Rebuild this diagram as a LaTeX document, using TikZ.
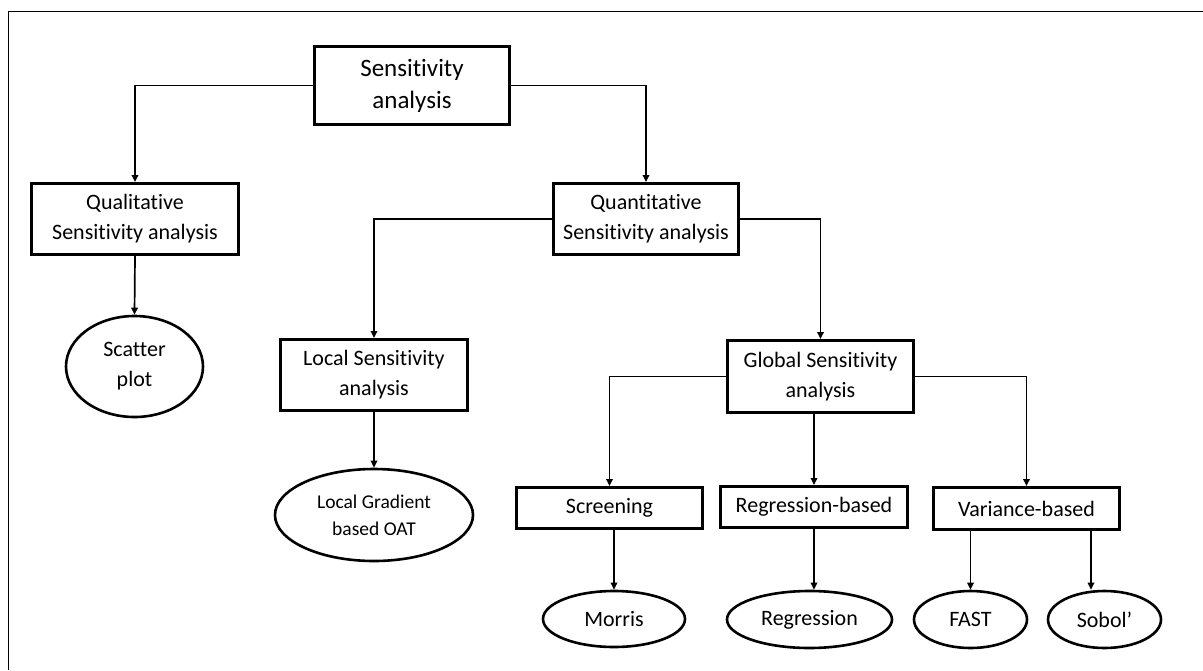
\documentclass[tikz,border=0pt]{standalone}
\usepackage{fontspec}
\setmainfont{Carlito}[Ligatures={NoCommon}]
\usetikzlibrary{shapes.geometric,arrows.meta,calc}
\begin{document}
\begin{tikzpicture}[x=1pt,y=-1pt,
  box/.style={draw, rectangle, line width=3pt, inner sep=0pt, align=center, font=\fontsize{22}{30}\selectfont},
  oval/.style={draw, ellipse, line width=2.6pt, inner sep=0pt, align=center, font=\fontsize{22}{30}\selectfont},
  arr/.style={line width=1.7pt, -{Triangle[length=7pt,width=6.5pt]}},
  framestyle/.style={line width=1.4pt}]
\useasboundingbox (0,0) rectangle (1203,670);
% frame
\coordinate (fbl) at (8.5,670);
\coordinate (ftl) at (8.5,11.5);
\coordinate (ftr) at (1203,11.5);
\draw[framestyle] (fbl) -- (ftl) -- (ftr);
% nodes
\node[box, minimum width=195pt, minimum height=78pt, font=\fontsize{25}{32}\selectfont] (sa) at (412,85.5) {Sensitivity\\analysis};
\node[box, minimum width=207pt, minimum height=71pt] (qual) at (135,219) {Qualitative\\Sensitivity analysis};
\node[box, minimum width=185pt, minimum height=71pt] (quant) at (646,219) {Quantitative\\Sensitivity analysis};
\node[oval, minimum width=137pt, minimum height=101pt] (scatter) at (134.5,366.5) {Scatter\\plot};
\node[box, minimum width=187pt, minimum height=71pt] (local) at (374,375) {Local Sensitivity\\analysis};
\node[box, minimum width=186pt, minimum height=72pt] (global) at (820.5,376.5) {Global Sensitivity\\analysis};
\node[oval, minimum width=198pt, minimum height=92pt, font=\fontsize{19.5}{27}\selectfont] (lgrad) at (374,515) {Local Gradient\\based OAT};
\node[box, minimum width=186pt, minimum height=41pt] (screen) at (609.5,508) {Screening};
\node[box, minimum width=187pt, minimum height=41pt] (regb) at (814,507) {Regression-based};
\node[box, minimum width=186pt, minimum height=42pt] (var) at (1026.5,508.5) {Variance-based};
\node[oval, minimum width=142pt, minimum height=56pt] (morris) at (614,619) {Morris};
\node[oval, minimum width=165pt, minimum height=57pt] (regr) at (809.5,619.5) {Regression};
\node[oval, minimum width=113pt, minimum height=57pt] (fast) at (970.5,619.5) {FAST};
\node[oval, minimum width=113pt, minimum height=57pt] (sobol) at (1104.5,619.5) {Sobol’};
% connectors
\draw[arr] (sa.west) -| (qual.north);
\draw[arr] (sa.east) -| (quant.north);
\draw[arr] (qual.south) -- (scatter.north);
\draw[arr] (quant.west) -| (local.north);
\draw[arr] (quant.east) -| (global.north);
\draw[arr] (local.south) -- (lgrad.north);
\draw[arr] (global.west) -| (screen.north);
\draw[arr] (regb.north |- global.south) -- (regb.north);
\draw[arr] (global.east) -| (var.north);
\draw[arr] (morris.north |- screen.south) -- (morris.north);
\draw[arr] (regb.south) -- (regb.south |- regr.north);
\draw[arr] (fast.north |- var.south) -- (fast.north);
\coordinate (sobtop) at ([xshift=-13.5pt]sobol.north);
\draw[arr] (sobtop |- var.south) -- (sobtop);
\end{tikzpicture}
\end{document}
